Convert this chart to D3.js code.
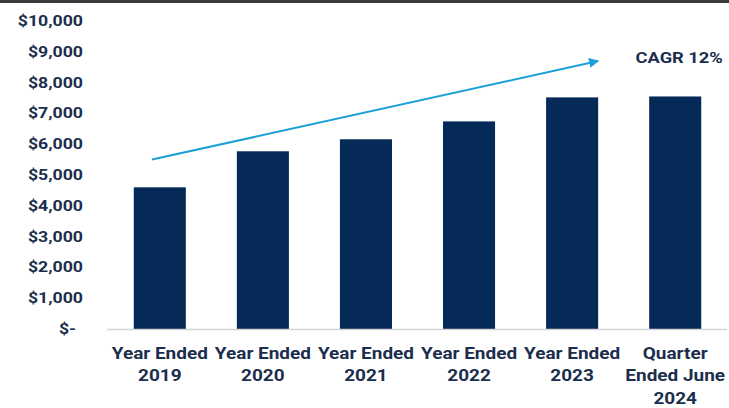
<!DOCTYPE html>
<html lang="en">
<head>
  <meta charset="UTF-8">
  <title>Revenue chart</title>
  <script src="https://cdn.jsdelivr.net/npm/d3@7"></script>
  <style>
    body { margin: 0; background: #fff; }
    text { font-family: Roboto, "Liberation Sans", sans-serif; font-weight: 700; fill: #1b2e4d; }
  </style>
</head>
<body>
<div id="grafica"></div>
<script>
  // data
  categorias = ['Year Ended|2019', 'Year Ended|2020', 'Year Ended|2021', 'Year Ended|2022', 'Year Ended|2023', 'Quarter|Ended June|2024']
  valores = [4600, 5770, 6160, 6740, 7520, 7550]
  ticks = [0, 1000, 2000, 3000, 4000, 5000, 6000, 7000, 8000, 9000, 10000]
  cagrTexto = 'CAGR 12%'
  tendencia = [5500, 8700]   // arrow start / end value

  ancho = 729
  alto = 408
  margin = { top: 21, right: 2, bottom: 79, left: 108 }

  svg = d3.select('#grafica')
    .append('svg')
    .attr('width', ancho)
    .attr('height', alto)

  // dark strip at the top edge of the screenshot
  svg.append('rect')
    .attr('x', 0).attr('y', 0)
    .attr('width', ancho).attr('height', 3)
    .attr('fill', '#3a3a3a')

  x = d3.scaleBand()
    .domain(categorias)
    .range([margin.left, ancho - margin.right])
    .paddingInner(0.495)
    .paddingOuter(0.25)

  y = d3.scaleLinear()
    .domain([0, 10000])
    .range([alto - margin.bottom, margin.top])

  fmt = d => d === 0 ? '$-' : '$' + d3.format(',')(d)

  // the source picture is stretched sideways, so text gets a scaleX
  function texto(sel, px, py, sx) {
    return sel.append('g')
      .attr('transform', 'translate(' + px + ',' + py + ') scale(' + sx + ',1)')
      .append('text')
  }

  // y labels
  ticks.forEach(function(d) {
    texto(svg, d === 0 ? 76 : 83, y(d), 1.22)
      .attr('dy', '0.35em')
      .attr('text-anchor', 'end')
      .attr('font-size', 14.5)
      .text(fmt(d))
  })

  // bars
  svg.selectAll('.bar')
    .data(valores)
    .enter()
    .append('rect')
    .attr('class', 'bar')
    .attr('x', (d, i) => x(categorias[i]))
    .attr('y', d => y(d))
    .attr('width', x.bandwidth())
    .attr('height', d => y(0) - y(d))
    .attr('fill', '#062a58')

  // baseline
  svg.append('line')
    .attr('x1', margin.left - 1).attr('x2', ancho - margin.right)
    .attr('y1', y(0) + 0.5).attr('y2', y(0) + 0.5)
    .attr('stroke', '#d4d4d4')
    .attr('stroke-width', 1.5)

  // x labels (multi line)
  categorias.forEach(function(c) {
    t = texto(svg, x(c) + x.bandwidth() / 2, y(0) + 30, 1.15)
      .attr('text-anchor', 'middle')
      .attr('font-size', 16.5)
    t.selectAll('tspan')
      .data(c.split('|'))
      .enter()
      .append('tspan')
      .attr('x', 0)
      .attr('dy', (d, i) => i === 0 ? 0 : 22.5)
      .text(d => d)
  })

  // CAGR arrow
  defs = svg.append('defs')
  defs.append('marker')
    .attr('id', 'flecha')
    .attr('viewBox', '0 0 10 10')
    .attr('refX', 9).attr('refY', 5)
    .attr('markerWidth', 6).attr('markerHeight', 5)
    .attr('markerUnits', 'strokeWidth')
    .attr('orient', 'auto')
    .append('path')
    .attr('d', 'M0,0 L10,5 L0,10 Z')
    .attr('fill', '#1ba1d8')

  svg.append('line')
    .attr('x1', x(categorias[0]) + x.bandwidth() * 0.35)
    .attr('y1', y(tendencia[0]))
    .attr('x2', x(categorias[4]) + x.bandwidth())
    .attr('y2', y(tendencia[1]))
    .attr('stroke', '#1ba1d8')
    .attr('stroke-width', 2)
    .attr('marker-end', 'url(#flecha)')

  texto(svg, x(categorias[5]) + x.bandwidth() / 2 + 4, y(tendencia[1]) - 3, 1.18)
    .attr('dy', '0.35em')
    .attr('text-anchor', 'middle')
    .attr('font-size', 15.5)
    .text(cagrTexto)
</script>
</body>
</html>
